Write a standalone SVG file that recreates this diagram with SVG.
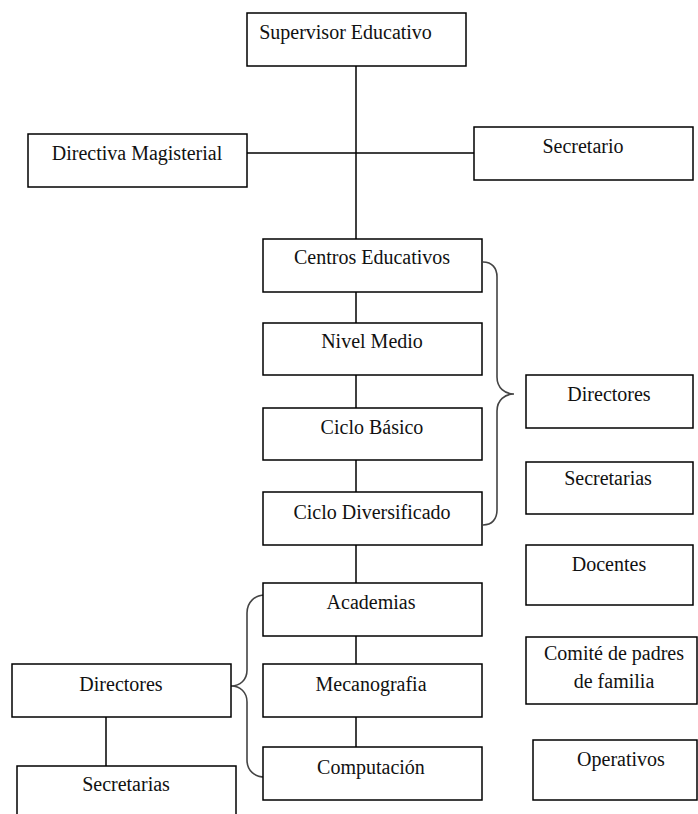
<svg xmlns="http://www.w3.org/2000/svg" width="698" height="814" viewBox="0 0 698 814">
<style>
rect{fill:#fff;stroke:#000;stroke-width:1.5}
text{font-family:'Liberation Serif','Times New Roman',serif;font-size:20px;fill:#111;text-anchor:middle}
.c line{stroke:#000;stroke-width:1.5}
.c path{fill:none;stroke:#444;stroke-width:1.6}
</style>
<rect x="0" y="0" width="698" height="814" style="stroke:none"/>
<g class="c" id="connectors">
<line x1="356" y1="66" x2="356" y2="239"/>
<line x1="247" y1="153" x2="474" y2="153"/>
<line x1="356" y1="292" x2="356" y2="323"/>
<line x1="356" y1="375" x2="356" y2="408"/>
<line x1="356" y1="460" x2="356" y2="492"/>
<line x1="356" y1="545" x2="356" y2="583"/>
<line x1="356" y1="636" x2="356" y2="664"/>
<line x1="356" y1="717" x2="356" y2="747"/>
<line x1="106" y1="717" x2="106" y2="766"/>
<path d="M483,262 C492,262 497,268 497,277 L497,377 C497,388 505,394 514,394 C505,394 497,400 497,411 L497,510 C497,519 492,525 483,525"/>
<path d="M265,595 C255,595 247,602 247,613 L247,670 C247,680 240,686 231,686 C240,686 247,692 247,702 L247,760 C247,771 255,777 265,777"/>
</g>
<g font-family="Liberation Serif, serif">
<g id="supervisor"><rect x="247" y="13" width="219" height="53"/><text x="345.5" y="39">Supervisor Educativo</text></g>
<g id="directiva"><rect x="28" y="134" width="219" height="53"/><text x="137" y="160">Directiva Magisterial</text></g>
<g id="secretario"><rect x="474" y="127" width="219" height="53"/><text x="583" y="153">Secretario</text></g>
<g id="centros"><rect x="263" y="239" width="219" height="53"/><text x="372" y="264">Centros Educativos</text></g>
<g id="nivel"><rect x="263" y="323" width="219" height="52"/><text x="372" y="348">Nivel Medio</text></g>
<g id="basico"><rect x="263" y="408" width="219" height="52"/><text x="372" y="434">Ciclo Básico</text></g>
<g id="diversificado"><rect x="263" y="492" width="219" height="53"/><text x="372" y="519">Ciclo Diversificado</text></g>
<g id="academias"><rect x="263" y="583" width="219" height="53"/><text x="371" y="609">Academias</text></g>
<g id="mecanografia"><rect x="263" y="664" width="219" height="53"/><text x="371" y="691">Mecanografia</text></g>
<g id="computacion"><rect x="263" y="747" width="219" height="53"/><text x="371" y="774">Computación</text></g>
<g id="directores-izq"><rect x="12" y="664" width="219" height="53"/><text x="121" y="691">Directores</text></g>
<g id="secretarias-izq"><rect x="17" y="766" width="219" height="60"/><text x="126" y="791">Secretarias</text></g>
<g id="directores-der"><rect x="526" y="375" width="167" height="53"/><text x="609" y="401">Directores</text></g>
<g id="secretarias-der"><rect x="526" y="462" width="167" height="52"/><text x="608" y="485">Secretarias</text></g>
<g id="docentes"><rect x="526" y="545" width="167" height="60"/><text x="609" y="571">Docentes</text></g>
<g id="comite"><rect x="526" y="637" width="171" height="67"/><text x="614" y="660">Comité de padres</text><text x="614" y="688">de familia</text></g>
<g id="operativos"><rect x="533" y="740" width="164" height="60"/><text x="621" y="766">Operativos</text></g>
</g>
</svg>
